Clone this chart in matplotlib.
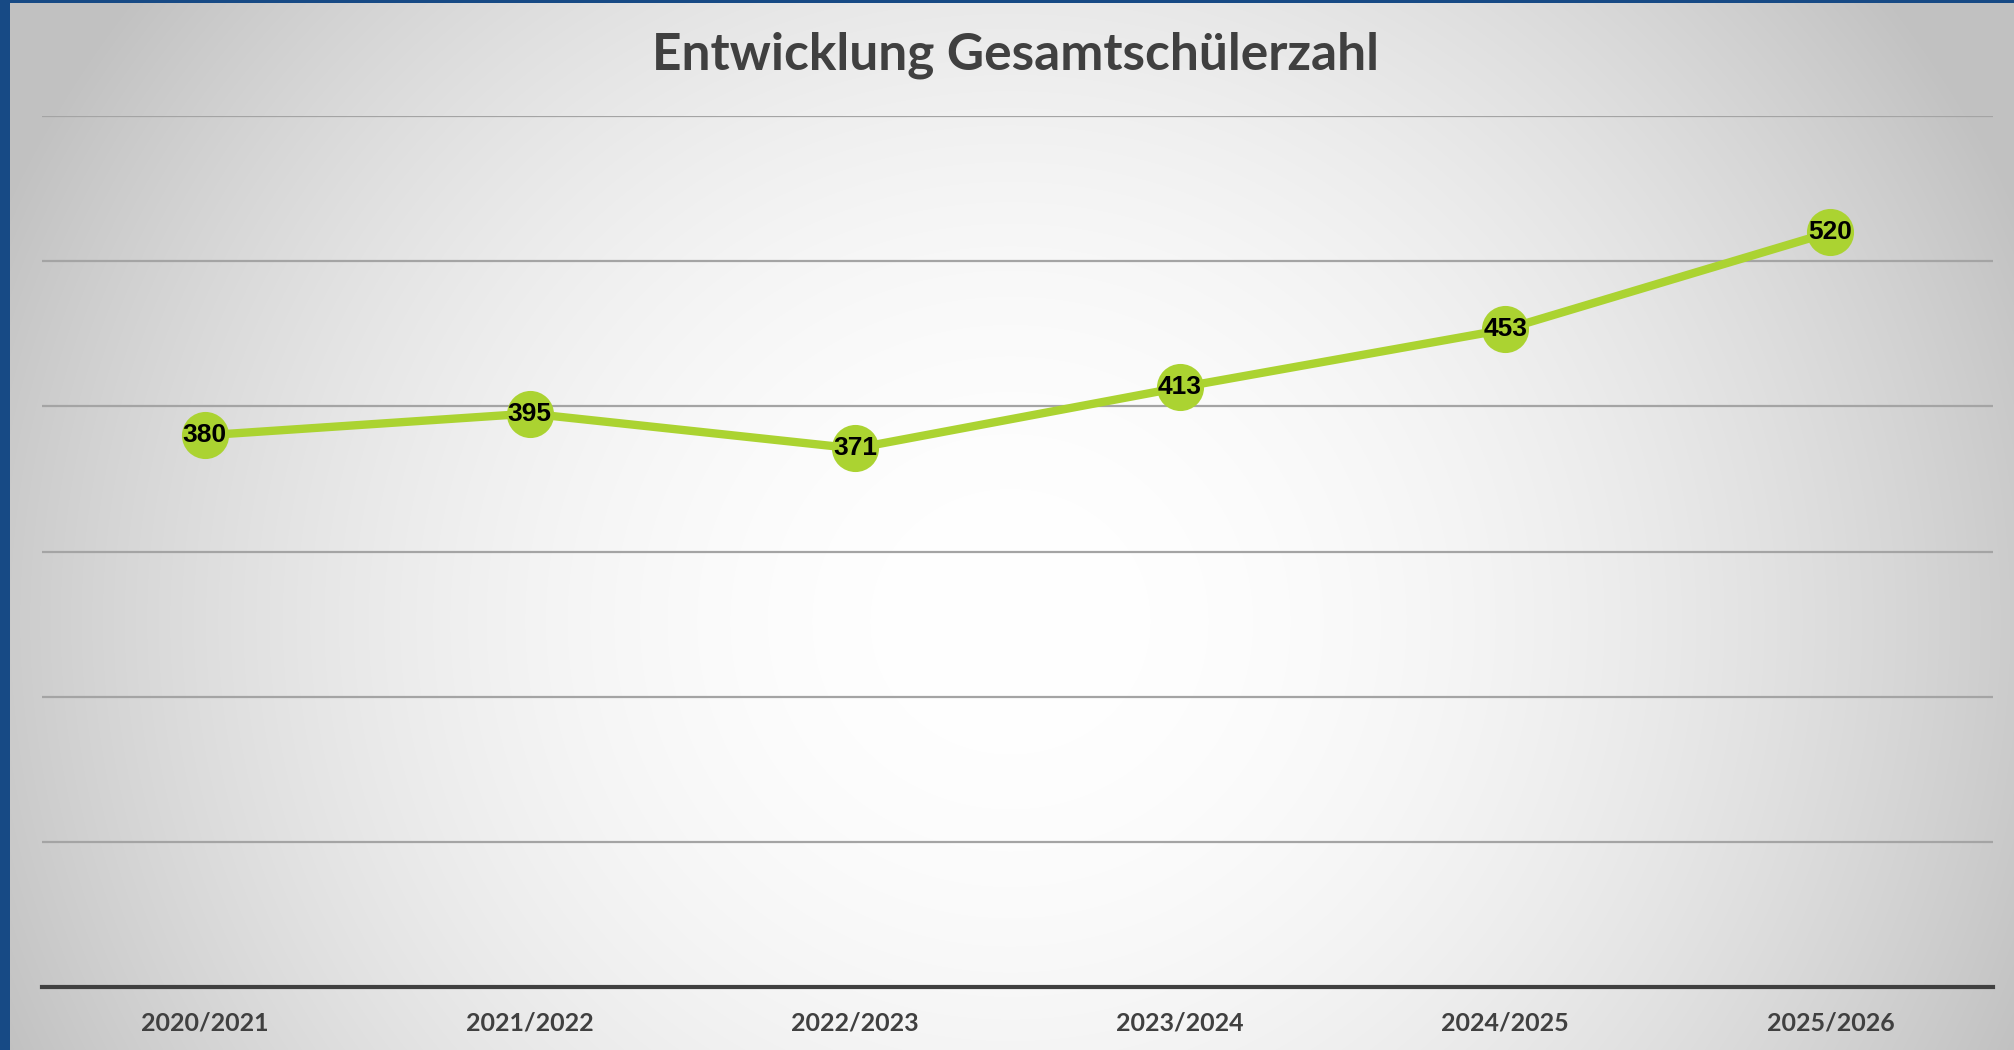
import numpy as np
import matplotlib
matplotlib.use("Agg")
import matplotlib.pyplot as plt

# data
years = ["2020/2021", "2021/2022", "2022/2023", "2023/2024", "2024/2025", "2025/2026"]
students = [380, 395, 371, 413, 453, 520]

W, H = 2015, 1050
fig = plt.figure(figsize=(W / 100, H / 100), dpi=100)
fig.patch.set_facecolor("#174a85")

# slide background: radial gray gradient, white in the middle
bg = fig.add_axes([10 / W, 0, 1 - 10 / W, 1 - 3 / H])
yy, xx = np.mgrid[0:H, 0:W - 10]
cx, cy = 1000, 620
r = np.sqrt(((xx - cx) / 1000.0) ** 2 + ((yy - cy) / 950.0) ** 2)
shade = 1.0 - 0.2 * np.clip(r, 0, 1.3) ** 2
shade = np.clip(shade, 0.76, 1.0)
bg.imshow(np.dstack([shade] * 3), aspect="auto", extent=[0, 1, 0, 1])
bg.axis("off")

# plot area: x 42..1993, y baseline 987 .. top grid 116
ax = fig.add_axes([42 / W, 1 - 987 / H, (1993 - 42) / W, (987 - 116) / H])
ax.patch.set_alpha(0)

x = np.arange(len(years))
green = "#abd331"
ax.plot(x, students, color=green, lw=6, solid_capstyle="round", zorder=3)
ax.scatter(x, students, s=1150, color=green, zorder=4, linewidths=0)
for xi, v in zip(x, students):
    ax.text(xi, v, str(v), ha="center", va="center", fontsize=19,
            fontweight="bold", family="Liberation Sans", color="black", zorder=5)

ax.set_xlim(-0.5, len(years) - 0.5)
ax.set_ylim(0, 600)
ax.set_yticks(np.arange(100, 601, 100))
ax.yaxis.grid(True, color="#a4a4a4", lw=1.6)
ax.set_axisbelow(True)
ax.tick_params(axis="y", left=False, labelleft=False)
ax.tick_params(axis="x", bottom=False, pad=14)
ax.set_xticks(x)
ax.set_xticklabels(years, fontsize=18, fontweight="bold", color="#404040", family="Lato")
for side in ["left", "right", "top"]:
    ax.spines[side].set_visible(False)
ax.spines["bottom"].set_color("#404040")
ax.spines["bottom"].set_linewidth(3)

fig.text(1016 / W, 1 - 55 / H, "Entwicklung Gesamtschülerzahl", ha="center", va="center",
         fontsize=37, fontweight="bold", color="#404040", family="Lato")

fig.savefig("out.png", dpi=100)
